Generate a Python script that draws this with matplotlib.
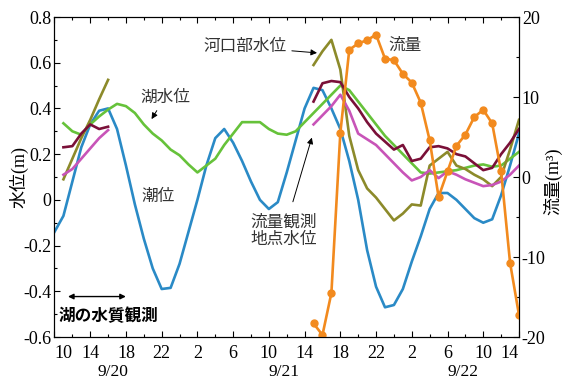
import numpy as np
import matplotlib.pyplot as plt

# 時刻 (9/20 0時からの経過時間, h)
hours = np.arange(10, 63)
h_lake = np.arange(11, 63)
h_first = np.arange(11, 17)
h_second = np.arange(39, 63)

# 潮位 (m)
tide = [-0.14, -0.07, 0.08, 0.23, 0.33, 0.39, 0.40, 0.31, 0.15, -0.02,
        -0.17, -0.30, -0.39, -0.385, -0.28, -0.14, 0.00, 0.15, 0.27, 0.31,
        0.25, 0.17, 0.08, 0.00, -0.04, -0.01, 0.12, 0.26, 0.40, 0.49,
        0.48, 0.40, 0.31, 0.17, 0.00, -0.22, -0.38, -0.47, -0.46, -0.39,
        -0.27, -0.16, -0.04, 0.03, 0.03, 0.00, -0.04, -0.08, -0.10, -0.085,
        0.02, 0.15, 0.29]

# 湖水位 (m)
lake = [0.335, 0.30, 0.285, 0.33, 0.365, 0.395, 0.42, 0.41, 0.38,
        0.33, 0.29, 0.26, 0.22, 0.195, 0.155, 0.12, 0.15, 0.18, 0.24,
        0.29, 0.34, 0.34, 0.34, 0.31, 0.29, 0.285, 0.30, 0.34, 0.38,
        0.42, 0.46, 0.50, 0.48, 0.43, 0.38, 0.33, 0.28, 0.24, 0.20,
        0.16, 0.12, 0.115, 0.12, 0.125, 0.13, 0.14, 0.15, 0.155, 0.145,
        0.15, 0.18, 0.21]

# 河口部水位 (m)
mouth_1 = [0.09, 0.18, 0.27, 0.35, 0.44, 0.525]
mouth_2 = [0.59, 0.65, 0.70, 0.57, 0.28, 0.13, 0.05, 0.01, -0.04, -0.09,
           -0.06, -0.02, -0.025, 0.15, 0.18, 0.21, 0.15, 0.135, 0.11, 0.09,
           0.06, 0.10, 0.22, 0.35]

# 地点水位 (m), 2系列
maroon_1 = [0.23, 0.235, 0.29, 0.33, 0.31, 0.32]
maroon_2 = [0.43, 0.51, 0.52, 0.515, 0.45, 0.40, 0.34, 0.29, 0.255, 0.22,
            0.24, 0.17, 0.18, 0.23, 0.235, 0.225, 0.20, 0.19, 0.16, 0.13,
            0.14, 0.20, 0.25, 0.31]
pink_1 = [0.11, 0.135, 0.18, 0.225, 0.27, 0.305]
pink_2 = [0.33, 0.37, 0.41, 0.46, 0.39, 0.29, 0.265, 0.24, 0.20, 0.16,
          0.12, 0.085, 0.10, 0.13, 0.095, 0.125, 0.11, 0.09, 0.075, 0.06,
          0.065, 0.08, 0.11, 0.15]

# 流量
flow = [-18.3, -19.75, -14.5, 5.5, 15.9, 16.7, 17.1, 17.8, 14.8, 14.6,
        12.9, 11.8, 9.3, 4.6, -2.5, 0.7, 3.9, 5.3, 7.5, 8.4,
        6.7, 0.7, -10.7, -17.25]

xticks = np.arange(10, 63, 4)
xticklabels = [str(h % 24) for h in xticks]
days = ['9/20', '9/21', '9/22']
day_pos = [16.5, 35.7, 55.7]

serif = ['Liberation Serif', 'Noto Sans CJK JP']
jp = ['Noto Sans CJK JP', 'DejaVu Sans']

fig = plt.figure(figsize=(5.63, 3.83), dpi=100)
ax = fig.add_axes([0.0968, 0.1201, 0.825, 0.8355])
ax2 = ax.twinx()

lw = 1.9
ax.plot(hours, tide, color='#2a8ac6', lw=lw)
ax.plot(h_lake, lake, color='#66c23a', lw=lw)
ax.plot(h_first, mouth_1, color='#8c8a2a', lw=lw)
ax.plot(h_second, mouth_2, color='#8c8a2a', lw=lw)
ax.plot(h_first, maroon_1, color='#7a1038', lw=lw)
ax.plot(h_second, maroon_2, color='#7a1038', lw=lw)
ax.plot(h_first, pink_1, color='#c854b8', lw=lw)
ax.plot(h_second, pink_2, color='#c854b8', lw=lw)
ax2.plot(h_second, flow, color='#f28a1e', lw=lw, marker='o', ms=5)

ax.set_xlim(10, 62)
ax.set_ylim(-0.6, 0.8)
ax2.set_ylim(-20, 20)

ax.set_xticks(xticks)
ax.set_xticklabels(xticklabels, family=serif, fontsize=13)
ax.set_xticks(np.arange(10, 63, 2), minor=True)
ax.set_yticks(np.arange(-0.6, 0.81, 0.2))
ax.set_yticklabels(['-0.6', '-0.4', '-0.2', '0', '0.2', '0.4', '0.6', '0.8'],
                   family=serif, fontsize=13)
ax.set_yticks(np.arange(-0.6, 0.81, 0.1), minor=True)
ax2.set_yticks([-20, -10, 0, 10, 20])
ax2.set_yticklabels(['-20', '-10', '0', '10', '20'], family=serif, fontsize=13)
ax2.set_yticks(np.arange(-20, 21, 5), minor=True)

ax.tick_params(which='both', direction='in', top=True, right=False, width=0.8)
ax.tick_params(axis='x', which='major', length=4.5, pad=6)
ax.tick_params(axis='x', which='minor', length=2.5)
ax.tick_params(axis='y', which='major', length=4.5, pad=2)
ax.tick_params(axis='y', which='minor', length=2.5)
ax2.tick_params(which='both', direction='in', width=0.8, pad=2)
ax2.tick_params(which='major', length=4.5)
ax2.tick_params(which='minor', length=2.5)
for s in list(ax.spines.values()) + list(ax2.spines.values()):
    s.set_linewidth(0.8)

labels = ax.get_xticklabels()
labels[0].set_horizontalalignment('left')
labels[-1].set_horizontalalignment('right')

# 日付は時刻ラベルの下に
for d, x in zip(days, day_pos):
    ax.text(x, -0.11, d, transform=ax.get_xaxis_transform(), ha='center',
            va='center', family=serif, fontsize=12.5)

fig.text(0.034, 0.538, '水位(m)', rotation=90, ha='center', va='center',
         family=serif, fontsize=13)
fig.text(0.982, 0.527, '流量(m³)', rotation=90, ha='center', va='center',
         family=serif, fontsize=13)

tc = '#333333'
arrow = dict(arrowstyle='-|>', color='black', lw=0.7, mutation_scale=9)
ax.annotate('湖水位', xy=(20.7, 0.343), xytext=(22.4, 0.45), ha='center',
            va='center', family=jp, fontsize=12, color=tc, arrowprops=arrow)
ax.text(21.6, 0.014, '潮位', ha='center', va='center', family=jp,
        fontsize=12, color=tc)
ax.annotate('河口部水位', xy=(39.7, 0.642), xytext=(31.3, 0.669), ha='center',
            va='center', family=jp, fontsize=12, color=tc, arrowprops=arrow)
ax.text(49.2, 0.678, '流量', ha='center', va='center', family=jp,
        fontsize=12, color=tc)
ax.annotate('', xy=(38.9, 0.284), xytext=(36.6, -0.02), arrowprops=arrow)
ax.text(35.7, -0.135, '流量観測\n地点水位', ha='center', va='center',
        family=jp, fontsize=12, color=tc, linespacing=1.0)

ax.annotate('', xy=(18.3, -0.423), xytext=(11.2, -0.423),
            arrowprops=dict(arrowstyle='<|-|>', color='black', lw=1.0,
                            mutation_scale=8))
ax.text(10.4, -0.51, '湖の水質観測', ha='left', va='center', family=jp,
        fontsize=12, fontweight='bold')

fig.savefig('out.png', dpi=100)
